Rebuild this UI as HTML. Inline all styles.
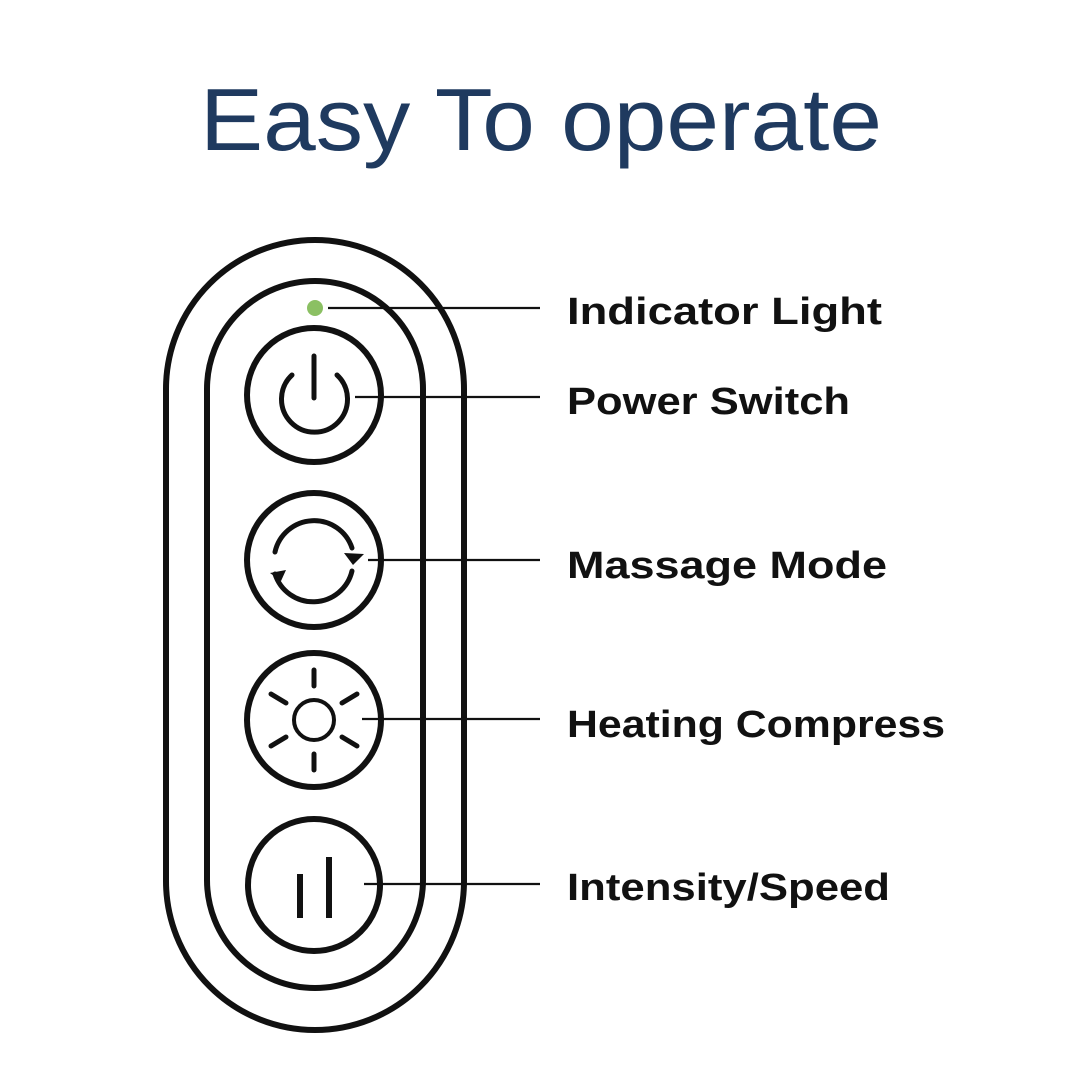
<!DOCTYPE html>
<html><head><meta charset="utf-8"><style>html,body{margin:0;padding:0;background:#fff}svg{display:block}</style></head>
<body>
<svg width="1080" height="1080" viewBox="0 0 1080 1080" xmlns="http://www.w3.org/2000/svg">
<rect width="1080" height="1080" fill="#fff"/>
<text x="200" y="150" font-family="Liberation Sans, sans-serif" font-size="88" fill="#1f3a5f" textLength="682" lengthAdjust="spacingAndGlyphs">Easy To operate</text>
<g fill="none" stroke="#111" stroke-width="6">
<rect x="166" y="240" width="298" height="790" rx="149"/>
<rect x="207" y="281" width="216" height="707" rx="108"/>
<circle cx="314" cy="395" r="67"/>
<circle cx="314" cy="560" r="67"/>
<circle cx="314" cy="720" r="67"/>
<circle cx="314" cy="885" r="66"/>
</g>
<circle cx="315" cy="308" r="8" fill="#8bc063"/>
<g stroke="#111" stroke-width="2.2">
<line x1="328" y1="308" x2="540" y2="308"/>
<line x1="355" y1="397" x2="540" y2="397"/>
<line x1="368" y1="560" x2="540" y2="560"/>
<line x1="362" y1="719" x2="540" y2="719"/>
<line x1="364" y1="884" x2="540" y2="884"/>
</g>
<g fill="none" stroke="#111" stroke-width="5" stroke-linecap="round">
<line x1="314" y1="356" x2="314" y2="398"/>
<path d="M292 375 A33 33 0 1 0 337 375"/>
<path d="M275 552 A40 40 0 0 1 352 548"/>
<path d="M352 571 A40 40 0 0 1 275 574"/>
<circle cx="314" cy="720" r="20" stroke-width="4"/>
<line x1="314" y1="670" x2="314" y2="686"/>
<line x1="314" y1="754" x2="314" y2="770"/>
<line x1="271" y1="694" x2="286" y2="703"/>
<line x1="342" y1="703" x2="357" y2="694"/>
<line x1="271" y1="746" x2="286" y2="737"/>
<line x1="342" y1="737" x2="357" y2="746"/>
<line x1="300" y1="874" x2="300" y2="918" stroke-linecap="butt" stroke-width="6"/>
<line x1="329" y1="857" x2="329" y2="918" stroke-linecap="butt" stroke-width="6"/>
</g>
<path d="M344 553 L364 554 L353 565 Z" fill="#111"/>
<path d="M270 573 L286 570 L281 581 Z" fill="#111"/>
<g font-family="Liberation Sans, sans-serif" font-weight="bold" font-size="38" fill="#111">
<text x="567" y="324" textLength="315" lengthAdjust="spacingAndGlyphs">Indicator Light</text>
<text x="567" y="414" textLength="283" lengthAdjust="spacingAndGlyphs">Power Switch</text>
<text x="567" y="578" textLength="320" lengthAdjust="spacingAndGlyphs">Massage Mode</text>
<text x="567" y="737" textLength="378" lengthAdjust="spacingAndGlyphs">Heating Compress</text>
<text x="567" y="900" textLength="323" lengthAdjust="spacingAndGlyphs">Intensity/Speed</text>
</g>
</svg>
</body></html>
